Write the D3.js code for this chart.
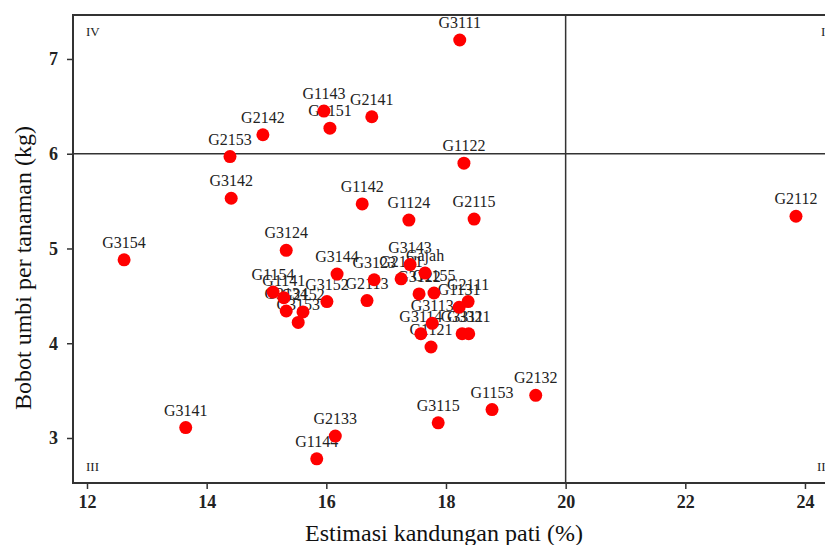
<!DOCTYPE html>
<html>
<head>
<meta charset="utf-8">
<script src="https://cdn.jsdelivr.net/npm/d3@7"></script>
<style>
  html, body { margin: 0; padding: 0; background: #fff; }
  svg { display: block; }
  text { font-family: "Liberation Serif", "DejaVu Serif", serif; }
</style>
</head>
<body>
<svg id="chart" width="825" height="545"></svg>
<script>
const names = ["G3111","G1143","G3151","G2141","G2142","G2153","G1122","G3142","G1142","G1124",
  "G2115","G2112","G3154","G3124","G3144","G3143","G2121","Gajah","G3123","G3122",
  "G1155","G3152","G2113","G2111","G1131","G3113","G3114","G3311","G3321","G1121",
  "G1154","G1141","G3134","G2152","G3153","G3141","G2133","G1144","G3115","G1153","G2132"];
const pati = [18.23,15.96,16.06,16.76,14.94,14.39,18.30,14.41,16.60,17.38,
  18.47,23.85,12.62,15.33,16.18,17.40,17.25,17.65,16.80,17.55,
  17.80,16.01,16.68,18.37,18.22,17.77,17.58,18.27,18.38,17.75,
  15.11,15.29,15.33,15.61,15.53,13.65,16.15,15.84,17.87,18.77,19.50];
const bobot = [7.20,6.45,6.27,6.39,6.20,5.97,5.90,5.53,5.47,5.30,
  5.31,5.34,4.88,4.98,4.73,4.83,4.68,4.74,4.67,4.52,
  4.53,4.44,4.45,4.44,4.38,4.21,4.10,4.10,4.10,3.96,
  4.54,4.48,4.34,4.33,4.22,3.11,3.02,2.78,3.16,3.30,3.45];
const xTicks = [12,14,16,18,20,22,24];
const yTicks = [3,4,5,6,7];
const xRef = 20, yRef = 6;
const quadrants = [
  {label:"IV", qx:"left", qy:"top"},
  {label:"I", qx:"right", qy:"top"},
  {label:"III", qx:"left", qy:"bottom"},
  {label:"II", qx:"right", qy:"bottom"}
];

const svg = d3.select("#chart");
const pLeft = 73, pTop = 15, pBottom = 483;
const x = d3.scaleLinear().domain([11.766, 24.5]).range([pLeft, pLeft + (24.5-11.766)*59.83]);
const y = d3.scaleLinear().domain([2.525, 7.464]).range([pBottom, pTop]);
const pRight = x.range()[1];

// axes
const xAxis = svg.append("g").attr("transform", `translate(0,${pBottom})`)
  .call(d3.axisBottom(x).tickValues(xTicks).tickSize(6).tickPadding(6).tickFormat(d3.format("d")));
const yAxis = svg.append("g").attr("transform", `translate(${pLeft},0)`)
  .call(d3.axisLeft(y).tickValues(yTicks).tickSize(6).tickPadding(9).tickFormat(d3.format("d")));
[xAxis, yAxis].forEach(g => {
  g.select(".domain").remove();
  g.selectAll(".tick line").attr("stroke", "#333").attr("stroke-width", 1.5);
  g.selectAll(".tick text").attr("fill", "#222").attr("font-size", 18)
    .attr("font-weight", "bold");
});

// frame
svg.append("rect").attr("x", pLeft).attr("y", pTop)
  .attr("width", pRight - pLeft).attr("height", pBottom - pTop)
  .attr("fill", "none").attr("stroke", "#333").attr("stroke-width", 2);

// reference lines
svg.append("line").attr("x1", x(xRef)).attr("x2", x(xRef)).attr("y1", pTop).attr("y2", pBottom)
  .attr("stroke", "#333").attr("stroke-width", 1.5);
svg.append("line").attr("x1", pLeft).attr("x2", pRight).attr("y1", y(yRef)).attr("y2", y(yRef))
  .attr("stroke", "#333").attr("stroke-width", 1.5);

// quadrant labels
svg.selectAll("text.quad").data(quadrants).join("text").attr("class", "quad")
  .attr("x", d => d.qx === "left" ? pLeft + 13 : x(24) + (d.label === "I" ? 16 : 12))
  .attr("y", d => d.qy === "top" ? pTop + 21 : pBottom - 12)
  .attr("font-size", 13).attr("fill", "#222")
  .text(d => d.label);

const data = names.map((n, i) => ({name: n, px: pati[i], by: bobot[i]}));

// labels
svg.selectAll("text.lab").data(data).join("text").attr("class", "lab")
  .attr("x", d => x(d.px)).attr("y", d => y(d.by) - 12)
  .attr("text-anchor", "middle").attr("font-size", 16).attr("fill", "#222")
  .text(d => d.name);

// points
svg.selectAll("circle.pt").data(data).join("circle").attr("class", "pt")
  .attr("cx", d => x(d.px)).attr("cy", d => y(d.by)).attr("r", 6.5)
  .attr("fill", "#ff0000");

// axis titles
svg.append("text").attr("x", 444).attr("y", 541).attr("text-anchor", "middle")
  .attr("font-size", 24).attr("fill", "#111").text("Estimasi kandungan pati (%)");
svg.append("text").attr("transform", "translate(31,268) rotate(-90)").attr("text-anchor", "middle")
  .attr("font-size", 24).attr("fill", "#111").text("Bobot umbi per tanaman (kg)");
</script>
</body>
</html>
